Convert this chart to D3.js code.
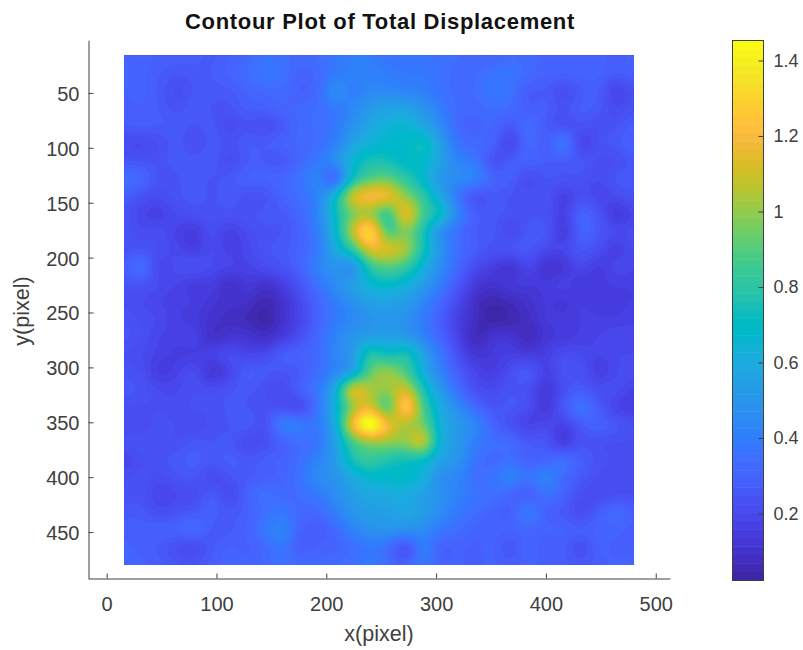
<!DOCTYPE html>
<html>
<head>
<meta charset="utf-8">
<script src="https://cdn.jsdelivr.net/npm/d3@7"></script>
<style>
body { margin: 0; background: #fff; }
text { font-family: "Liberation Sans", Arial, sans-serif; }
</style>
</head>
<body>
<svg id="chart" width="803" height="650"></svg>
<script>
var gridX = [16, 32, 48, 64, 80, 96, 112, 128, 144, 160, 176, 192, 208, 224, 240, 256, 272, 288, 304, 320, 336, 352, 368, 384, 400, 416, 432, 448, 464, 480];
var gridY = [16, 32, 48, 64, 80, 96, 112, 128, 144, 160, 176, 192, 208, 224, 240, 256, 272, 288, 304, 320, 336, 352, 368, 384, 400, 416, 432, 448, 464, 480];

// total displacement, one row per gridY entry
var displacement = [
    [.30, .30, .29, .28, .28, .26, .29, .31, .36, .34, .33, .34, .38, .40, .40, .36, .36, .36, .35, .34, .32, .30, .33, .32, .31, .30, .30, .30, .28, .30],
    [.31, .30, .27, .25, .26, .27, .30, .34, .38, .36, .30, .32, .38, .42, .42, .40, .38, .38, .36, .32, .33, .36, .38, .32, .30, .30, .30, .30, .27, .29],
    [.29, .30, .26, .21, .25, .26, .26, .30, .32, .33, .28, .32, .48, .40, .44, .44, .42, .40, .36, .32, .34, .38, .36, .26, .27, .20, .26, .28, .16, .24],
    [.28, .29, .27, .23, .27, .24, .24, .28, .28, .31, .32, .34, .38, .44, .52, .56, .56, .50, .40, .33, .32, .34, .33, .27, .28, .24, .28, .26, .20, .24],
    [.27, .28, .27, .27, .24, .26, .20, .24, .21, .25, .32, .34, .38, .48, .58, .64, .66, .58, .46, .32, .30, .32, .25, .35, .26, .22, .24, .22, .24, .28],
    [.20, .19, .22, .26, .21, .26, .24, .27, .27, .30, .32, .34, .40, .56, .64, .68, .68, .74, .54, .36, .32, .30, .16, .34, .26, .42, .16, .24, .26, .30],
    [.24, .24, .24, .26, .26, .27, .20, .27, .26, .24, .32, .38, .48, .66, .76, .74, .68, .70, .56, .42, .38, .22, .28, .30, .27, .26, .26, .22, .21, .26],
    [.36, .32, .23, .24, .26, .24, .26, .30, .30, .32, .36, .44, .26, .72, .88, .92, .80, .68, .50, .46, .44, .30, .28, .20, .25, .24, .24, .20, .26, .26],
    [.28, .23, .21, .24, .26, .24, .26, .23, .23, .30, .34, .42, .68, 1.14, 1.24, 1.20, 1.0, .82, .58, .36, .22, .26, .24, .23, .25, .15, .23, .17, .21, .24],
    [.24, .18, .16, .21, .23, .24, .24, .24, .26, .26, .32, .42, .70, .94, 1.0, .78, 1.22, .86, .72, .44, .28, .26, .24, .23, .24, .16, .31, .25, .12, .19],
    [.24, .21, .22, .17, .14, .22, .16, .21, .24, .24, .30, .40, .66, 1.08, 1.40, .84, .98, .76, .46, .34, .26, .26, .18, .26, .26, .12, .31, .25, .21, .21],
    [.23, .24, .22, .19, .15, .21, .16, .19, .24, .26, .30, .38, .60, .82, 1.16, 1.14, 1.06, .76, .50, .34, .28, .23, .26, .26, .20, .19, .26, .22, .15, .21],
    [.27, .36, .18, .22, .24, .20, .19, .17, .22, .24, .30, .42, .50, .44, .82, .90, .84, .64, .46, .32, .20, .16, .10, .20, .10, .12, .20, .14, .20, .18],
    [.24, .24, .20, .18, .14, .16, .08, .14, .10, .16, .24, .36, .46, .56, .66, .70, .64, .54, .40, .26, .14, .10, .14, .14, .14, .18, .13, .15, .16, .16],
    [.22, .20, .18, .16, .16, .12, .10, .10, .05, .10, .20, .30, .40, .48, .56, .56, .54, .44, .32, .20, .08, .05, .07, .10, .14, .12, .16, .14, .14, .16],
    [.24, .22, .20, .16, .14, .10, .08, .06, .03, .10, .18, .30, .38, .44, .48, .50, .48, .40, .28, .16, .08, .02, .05, .08, .14, .14, .16, .16, .16, .18],
    [.26, .22, .18, .16, .18, .08, .12, .12, .08, .14, .22, .32, .42, .50, .54, .55, .52, .42, .30, .18, .05, .12, .12, .06, .12, .14, .16, .18, .20, .18],
    [.22, .20, .17, .15, .15, .18, .22, .18, .20, .28, .30, .32, .44, .52, .80, .70, .78, .58, .38, .22, .12, .14, .16, .14, .16, .22, .20, .18, .20, .20],
    [.24, .22, .14, .17, .22, .10, .18, .28, .26, .24, .26, .34, .42, .54, .92, 1.02, .88, .62, .42, .28, .18, .15, .22, .28, .16, .24, .24, .15, .20, .22],
    [.26, .24, .20, .20, .22, .22, .24, .26, .22, .20, .30, .38, .60, 1.18, 1.04, 1.0, 1.12, .76, .52, .34, .22, .20, .24, .22, .12, .22, .26, .22, .22, .17],
    [.22, .22, .22, .20, .24, .22, .26, .24, .24, .22, .18, .36, .62, .98, 1.14, .82, 1.36, .88, .60, .46, .32, .24, .26, .22, .13, .26, .38, .26, .17, .15],
    [.20, .20, .24, .22, .19, .24, .24, .28, .22, .42, .40, .38, .60, 1.22, 1.58, 1.20, 1.02, .96, .62, .52, .44, .30, .22, .16, .20, .17, .26, .30, .26, .22],
    [.24, .24, .24, .22, .26, .24, .26, .19, .22, .28, .34, .36, .54, .86, .98, 1.0, 1.0, 1.14, .62, .52, .40, .34, .34, .26, .26, .12, .24, .22, .22, .22],
    [.17, .22, .24, .26, .28, .26, .28, .26, .28, .30, .34, .42, .52, .76, .84, .76, .72, .70, .56, .50, .36, .32, .34, .28, .30, .36, .28, .24, .22, .22],
    [.22, .24, .21, .24, .26, .19, .25, .26, .28, .30, .36, .46, .48, .60, .68, .68, .70, .64, .46, .44, .34, .36, .44, .36, .44, .32, .26, .22, .20, .20],
    [.22, .24, .17, .20, .20, .28, .19, .30, .36, .32, .34, .38, .46, .54, .58, .60, .60, .54, .48, .42, .36, .36, .30, .26, .36, .30, .22, .20, .22, .22],
    [.26, .26, .21, .24, .26, .28, .26, .28, .34, .38, .32, .32, .40, .50, .54, .54, .58, .54, .46, .38, .34, .30, .28, .42, .28, .26, .20, .28, .34, .28],
    [.28, .28, .30, .30, .34, .26, .26, .30, .38, .44, .30, .27, .32, .42, .48, .50, .48, .46, .38, .34, .30, .30, .30, .30, .30, .30, .28, .30, .30, .28],
    [.30, .28, .26, .21, .19, .26, .30, .28, .32, .38, .27, .30, .30, .34, .38, .34, .20, .42, .28, .30, .28, .30, .23, .33, .26, .28, .21, .30, .28, .28],
    [.30, .30, .28, .26, .26, .28, .30, .30, .32, .36, .34, .32, .34, .36, .40, .34, .30, .40, .30, .30, .28, .30, .28, .30, .28, .28, .26, .28, .30, .30]
];

var xTicks = [0, 100, 200, 300, 400, 500];
var yTicks = [50, 100, 150, 200, 250, 300, 350, 400, 450];
var barTicks = [0.2, 0.4, 0.6, 0.8, 1, 1.2, 1.4];
var colorLimits = [0.0225, 1.453];

var parula = [
    [.2422, .1504, .6603], [.2504, .1650, .7076], [.2578, .1818, .7511], [.2647, .1978, .7952],
    [.2706, .2147, .8364], [.2751, .2342, .8710], [.2783, .2559, .8991], [.2803, .2782, .9221],
    [.2813, .3006, .9414], [.2810, .3228, .9579], [.2795, .3447, .9717], [.2760, .3667, .9829],
    [.2699, .3892, .9906], [.2602, .4123, .9952], [.2440, .4358, .9988], [.2206, .4603, .9973],
    [.1963, .4847, .9892], [.1834, .5074, .9798], [.1786, .5289, .9682], [.1764, .5499, .9520],
    [.1687, .5703, .9359], [.1540, .5902, .9218], [.1460, .6091, .9079], [.1380, .6276, .8973],
    [.1248, .6459, .8883], [.1113, .6635, .8763], [.0952, .6798, .8598], [.0689, .6948, .8394],
    [.0297, .7082, .8163], [.0036, .7203, .7917], [.0067, .7312, .7660], [.0433, .7411, .7394],
    [.0964, .7500, .7120], [.1408, .7584, .6842], [.1717, .7670, .6554], [.1938, .7758, .6251],
    [.2161, .7843, .5923], [.2470, .7918, .5567], [.2906, .7973, .5188], [.3406, .8008, .4789],
    [.3909, .8029, .4354], [.4456, .8024, .3909], [.5044, .7993, .3480], [.5616, .7942, .3045],
    [.6174, .7876, .2612], [.6720, .7793, .2227], [.7242, .7698, .1910], [.7738, .7598, .1646],
    [.8203, .7498, .1535], [.8634, .7406, .1596], [.9035, .7330, .1774], [.9393, .7288, .2100],
    [.9728, .7298, .2394], [.9956, .7434, .2371], [.9970, .7659, .2199], [.9952, .7893, .2028],
    [.9892, .8136, .1885], [.9786, .8386, .1766], [.9676, .8639, .1643], [.9610, .8890, .1537],
    [.9597, .9135, .1423], [.9628, .9373, .1265], [.9691, .9606, .1064], [.9769, .9839, .0805]
];

var textColor = "#404040";
var axisColor = "#404040";

var svg = d3.select("#chart");

var x = d3.scaleLinear().domain([-17, 513]).range([88, 670]);
var y = d3.scaleLinear().domain([2, 492]).range([40.2, 578.2]);
var barY = d3.scaleLinear().domain(colorLimits).range([580, 40]);

var colors = parula.map(function (c) {
    return d3.rgb(c[0] * 255, c[1] * 255, c[2] * 255).formatHex();
});
var color = d3.scaleQuantize().domain(colorLimits).range(colors);

// catmull-rom so the contour lines come out round instead of diamond shaped
function cubic(a, b, c, d, t) {
    return b + 0.5 * t * (c - a + t * (2 * a - 5 * b + 4 * c - d + t * (3 * (b - c) + d - a)));
}

function refine(rows, factor) {
    var ny = rows.length, nx = rows[0].length;
    var w = (nx - 1) * factor + 1, h = (ny - 1) * factor + 1;
    var out = new Float64Array(w * h);
    function at(j, i) {
        return rows[Math.max(0, Math.min(ny - 1, j))][Math.max(0, Math.min(nx - 1, i))];
    }
    for (var py = 0; py < h; py++) {
        var j = Math.floor(py / factor), tj = py / factor - j;
        for (var px = 0; px < w; px++) {
            var i = Math.floor(px / factor), ti = px / factor - i;
            var col = [];
            for (var k = -1; k <= 2; k++) {
                col.push(cubic(at(j + k, i - 1), at(j + k, i), at(j + k, i + 1), at(j + k, i + 2), ti));
            }
            out[py * w + px] = cubic(col[0], col[1], col[2], col[3], tj);
        }
    }
    return { data: out, width: w, height: h };
}

var factor = 8;
var fine = refine(displacement, factor);
d3.blur2(fine, 2);

var levels = colors.map(function (c, i) {
    return i === 0 ? -10 : color.invertExtent(c)[0];
});

var contours = d3.contours()
    .size([fine.width, fine.height])
    .smooth(true)
    .thresholds(levels)(Array.from(fine.data));

var stepX = (gridX[gridX.length - 1] - gridX[0]) / (fine.width - 1);
var stepY = (gridY[gridY.length - 1] - gridY[0]) / (fine.height - 1);
var path = d3.geoPath(d3.geoTransform({
    point: function (px, py) {
        this.stream.point(x(gridX[0] + (px - 0.5) * stepX), y(gridY[0] + (py - 0.5) * stepY));
    }
}));

svg.append("clipPath").attr("id", "plotclip")
    .append("rect")
    .attr("x", x(gridX[0]))
    .attr("y", y(gridY[0]))
    .attr("width", x(gridX[gridX.length - 1]) - x(gridX[0]))
    .attr("height", y(gridY[gridY.length - 1]) - y(gridY[0]));

svg.append("g")
    .attr("clip-path", "url(#plotclip)")
    .selectAll("path")
    .data(contours)
    .enter()
    .append("path")
    .attr("d", path)
    .attr("fill", function (d, i) { return colors[i]; });

// axes, matlab style: ticks point inward, no box
function styleAxis(g) {
    g.selectAll(".domain").attr("stroke", axisColor).attr("stroke-width", 1);
    g.selectAll(".tick line").attr("stroke", axisColor).attr("stroke-width", 1);
    g.selectAll(".tick text").attr("fill", textColor).style("font-size", "20px").style("font-family", "Liberation Sans");
}

svg.append("g")
    .attr("transform", "translate(0,578.5)")
    .call(d3.axisBottom(x).tickValues(xTicks).tickFormat(d3.format("d")).tickSizeInner(-5).tickSizeOuter(0).tickPadding(18))
    .call(styleAxis);

svg.append("g")
    .attr("transform", "translate(88.5,0)")
    .call(d3.axisLeft(y).tickValues(yTicks).tickFormat(d3.format("d")).tickSizeInner(-5).tickSizeOuter(0).tickPadding(9))
    .call(styleAxis)
    .selectAll(".tick text").attr("y", 1);

svg.append("text")
    .attr("x", 380)
    .attr("y", 29)
    .attr("text-anchor", "middle")
    .attr("font-weight", "bold")
    .attr("font-size", 22)
    .attr("letter-spacing", 0.7)
    .attr("fill", "#111")
    .text("Contour Plot of Total Displacement");

svg.append("text")
    .attr("x", 379)
    .attr("y", 641)
    .attr("text-anchor", "middle")
    .attr("font-size", 21.5)
    .attr("fill", textColor)
    .text("x(pixel)");

svg.append("text")
    .attr("transform", "translate(29,311) rotate(-90)")
    .attr("text-anchor", "middle")
    .attr("font-size", 21.5)
    .attr("fill", textColor)
    .text("y(pixel)");

// colorbar
var barLeft = 732, barRight = 763;

svg.append("g")
    .selectAll("rect")
    .data(colors)
    .enter()
    .append("rect")
    .attr("x", barLeft)
    .attr("width", barRight - barLeft)
    .attr("y", function (c) { return barY(color.invertExtent(c)[1]); })
    .attr("height", function (c) {
        var e = color.invertExtent(c);
        return barY(e[0]) - barY(e[1]) + 0.5;
    })
    .attr("fill", function (c) { return c; });

svg.append("rect")
    .attr("x", barLeft + 0.5)
    .attr("y", 40.5)
    .attr("width", barRight - barLeft)
    .attr("height", 540)
    .attr("fill", "none")
    .attr("stroke", axisColor);

var barAxis = svg.append("g")
    .attr("transform", "translate(" + (barRight + 0.5) + ",0.5)")
    .call(d3.axisRight(barY).tickValues(barTicks).tickFormat(function (d) { return String(d); }).tickSizeInner(-5).tickSizeOuter(0).tickPadding(10))
    .call(styleAxis);
barAxis.selectAll(".domain").remove();
barAxis.selectAll(".tick text").style("font-size", "18px");
</script>
</body>
</html>
